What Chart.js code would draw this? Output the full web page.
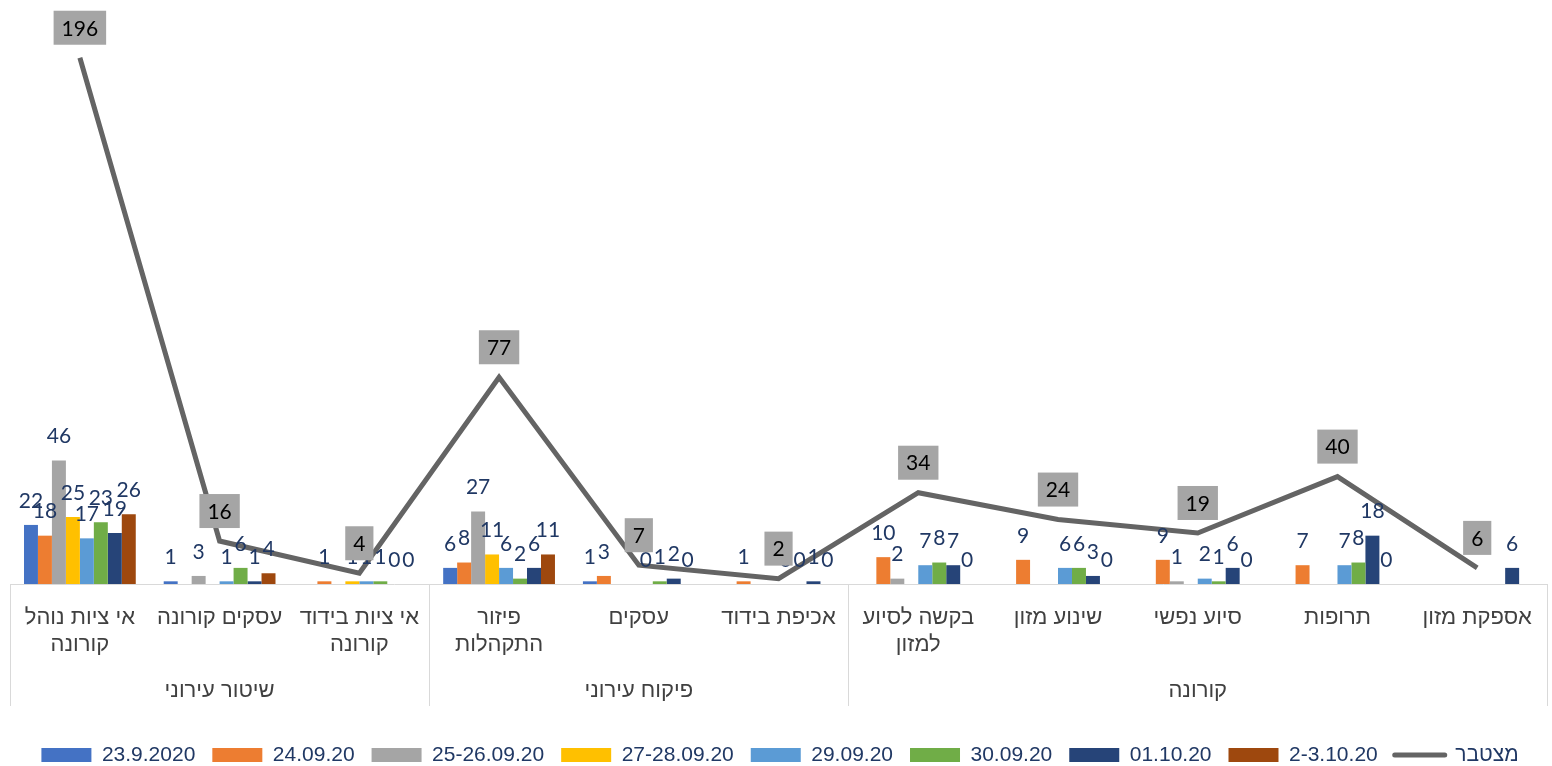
<!DOCTYPE html>
<html lang="he">
<head>
<meta charset="utf-8">
<title>מצטבר</title>
<script src="https://cdn.jsdelivr.net/npm/chart.js"></script>
<style>
  html, body { margin: 0; padding: 0; background: #fff; }
  canvas { display: block; }
</style>
</head>
<body>
<canvas id="chart" width="1552" height="766"></canvas>
<script>
// categories (left to right) and their groups
const categories = [
    ['אי ציות נוהל', 'קורונה'],
    ['עסקים קורונה'],
    ['אי ציות בידוד', 'קורונה'],
    ['פיזור', 'התקהלות'],
    ['עסקים'],
    ['אכיפת בידוד'],
    ['בקשה לסיוע', 'למזון'],
    ['שינוע מזון'],
    ['סיוע נפשי'],
    ['תרופות'],
    ['אספקת מזון']
];
const groupNames = ['שיטור עירוני', 'פיקוח עירוני', 'קורונה'];
const groupSizes = [3, 3, 5];

// series values (null = no bar / no label)
const seriesNames = ['23.9.2020', '24.09.20', '25-26.09.20', '27-28.09.20', '29.09.20', '30.09.20', '01.10.20', '2-3.10.20'];
const d23_09 = [22, 1, null, 6, 1, null, null, null, null, null, null];
const d24_09 = [18, null, 1, 8, 3, 1, 10, 9, 9, 7, null];
const d25_26_09 = [46, 3, null, 27, null, null, 2, null, 1, null, null];
const d27_28_09 = [25, null, 1, 11, null, null, null, null, null, null, null];
const d29_09 = [17, 1, 1, 6, 0, 0, 7, 6, 2, 7, null];
const d30_09 = [23, 6, 1, 2, 1, 0, 8, 6, 1, 8, null];
const d01_10 = [19, 1, 0, 6, 2, 1, 7, 3, 6, 18, 6];
const d02_03_10 = [26, 4, 0, 11, 0, 0, 0, 0, 0, 0, null];
const cumulative = [196, 16, 4, 77, 7, 2, 34, 24, 19, 40, 6];

const seriesValues = [d23_09, d24_09, d25_26_09, d27_28_09, d29_09, d30_09, d01_10, d02_03_10];
const seriesColors = ['#4472C4', '#ED7D31', '#A5A5A5', '#FFC000', '#5B9BD5', '#70AD47', '#264478', '#9E480E'];
const lineName = 'מצטבר';
const lineColor = '#646464';

const labelColor = '#203864';
const hebFont = '"Liberation Sans", Arial, sans-serif';

// value labels on bars and boxed labels on the line
const valueLabels = {
    id: 'valueLabels',
    afterDatasetsDraw(chart) {
        const ctx = chart.ctx;
        ctx.save();
        ctx.textAlign = 'center';
        ctx.textBaseline = 'middle';
        ctx.font = '21px Lato, "Liberation Sans", sans-serif';
        ctx.fillStyle = labelColor;
        chart.data.datasets.forEach((ds, i) => {
            if (ds.type === 'line') return;
            chart.getDatasetMeta(i).data.forEach((bar, j) => {
                const v = ds.data[j];
                if (v === null || v === undefined) return;
                ctx.fillText(String(v), bar.x, bar.y - 24);
            });
        });

        const li = chart.data.datasets.findIndex(ds => ds.type === 'line');
        const ds = chart.data.datasets[li];
        chart.getDatasetMeta(li).data.forEach((pt, j) => {
            const txt = String(ds.data[j]);
            const w = ctx.measureText(txt).width + 16;
            const h = 34;
            const bottom = pt.y - 13;
            ctx.fillStyle = '#A5A5A5';
            ctx.fillRect(pt.x - w / 2, bottom - h, w, h);
            ctx.fillStyle = '#000000';
            ctx.fillText(txt, pt.x, bottom - h / 2 + 1);
        });
        ctx.restore();
    }
};

// second level of the category axis: group names and separators
const groupAxis = {
    id: 'groupAxis',
    afterDraw(chart) {
        const x = chart.scales.x;
        const ctx = chart.ctx;
        const top = chart.chartArea.bottom;
        const lineBottom = top + 122;
        ctx.save();
        ctx.strokeStyle = '#D9D9D9';
        ctx.lineWidth = 1;
        ctx.font = '22px ' + hebFont;
        ctx.fillStyle = '#404040';
        ctx.textAlign = 'center';
        ctx.textBaseline = 'middle';

        let start = 0;
        const edges = [chart.chartArea.left];
        groupSizes.forEach((n, g) => {
            const end = start + n - 1;
            const right = end === categories.length - 1
                ? chart.chartArea.right
                : (x.getPixelForValue(end) + x.getPixelForValue(end + 1)) / 2;
            edges.push(right);
            const left = edges[edges.length - 2];
            ctx.fillText(groupNames[g], (left + right) / 2, top + 107);
            start += n;
        });
        edges.forEach(e => {
            const px = Math.round(e) + 0.5;
            ctx.beginPath();
            ctx.moveTo(px, top);
            ctx.lineTo(px, lineBottom);
            ctx.stroke();
        });
        ctx.restore();
    }
};

const datasets = seriesNames.map((name, i) => ({
    type: 'bar',
    label: name,
    data: seriesValues[i],
    backgroundColor: seriesColors[i],
    order: 1,
    categoryPercentage: 0.8,
    barPercentage: 1.0
}));
datasets.push({
    type: 'line',
    label: lineName,
    data: cumulative,
    borderColor: lineColor,
    backgroundColor: lineColor,
    borderWidth: 5,
    pointRadius: 0,
    tension: 0,
    order: 0
});

new Chart(document.getElementById('chart').getContext('2d'), {
    data: {
        labels: categories,
        datasets
    },
    options: {
        responsive: false,
        animation: false,
        layout: {
            padding: { top: 47, left: 10, right: 2, bottom: -9.5 }
        },
        scales: {
            x: {
                grid: { display: false, drawTicks: false },
                border: { color: '#D9D9D9', width: 1 },
                ticks: {
                    autoSkip: false,
                    maxRotation: 0,
                    padding: 20,
                    color: '#404040',
                    font: { size: 22, family: hebFont, lineHeight: 1.25 }
                },
                afterFit(scale) { scale.height = 143.5; }
            },
            y: {
                display: false,
                min: 0,
                max: 200
            }
        },
        plugins: {
            tooltip: { enabled: false },
            legend: {
                position: 'bottom',
                labels: {
                    usePointStyle: true,
                    pointStyleWidth: 50,
                    boxHeight: 14,
                    padding: 17,
                    color: labelColor,
                    font: { size: 21, family: hebFont },
                    generateLabels(chart) {
                        const items = Chart.defaults.plugins.legend.labels.generateLabels(chart);
                        items.forEach(it => {
                            const ds = chart.data.datasets[it.datasetIndex];
                            if (ds.type === 'line') {
                                it.pointStyle = 'line';
                                it.strokeStyle = lineColor;
                                it.lineWidth = 5;
                                it.lineCap = 'round';
                            } else {
                                it.pointStyle = 'rect';
                                it.lineWidth = 0;
                            }
                        });
                        return items;
                    },
                    sort: (a, b) => a.datasetIndex - b.datasetIndex
                }
            }
        }
    },
    plugins: [valueLabels, groupAxis]
});
</script>
</body>
</html>
